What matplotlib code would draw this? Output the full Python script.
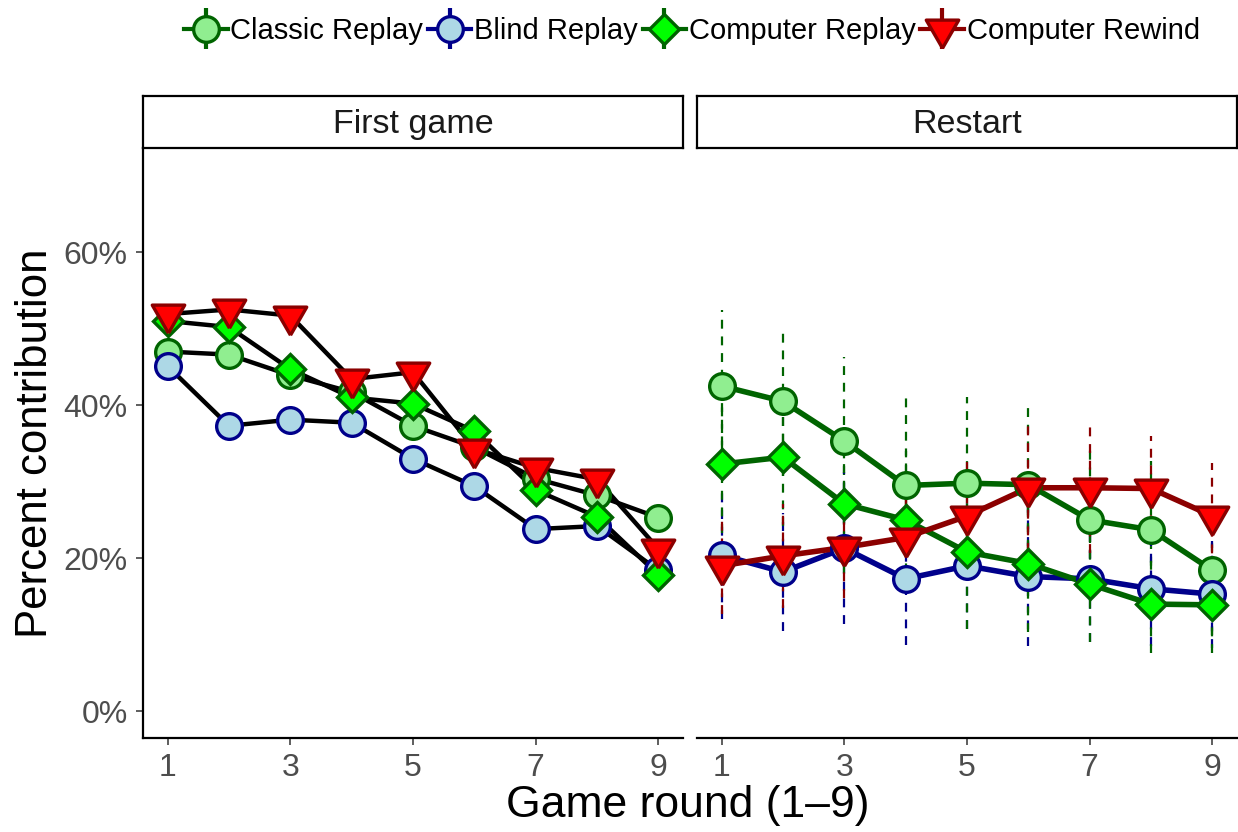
import numpy as np
import matplotlib
matplotlib.use("Agg")
import matplotlib.pyplot as plt
from matplotlib.container import ErrorbarContainer
from matplotlib.legend_handler import HandlerErrorbar

plt.rcParams['font.family'] = ['Liberation Sans', 'DejaVu Sans']

rounds = np.arange(1, 10)
series = ["Classic Replay", "Blind Replay", "Computer Replay", "Computer Rewind"]

# first game (percent contribution)
first_classic = [47.0, 46.6, 43.9, 41.7, 37.3, 34.5, 30.4, 28.2, 25.3]
first_blind = [45.1, 37.3, 38.1, 37.7, 33.0, 29.4, 23.8, 24.2, 18.4]
first_comp = [51.0, 50.2, 44.7, 41.0, 40.2, 36.6, 28.9, 25.4, 17.8]
first_rewind = [51.9, 52.5, 51.7, 43.4, 44.3, 34.3, 31.8, 30.3, 21.2]

# restart
restart_classic = [42.5, 40.5, 35.3, 29.5, 29.8, 29.6, 25.0, 23.7, 18.4]
restart_blind = [20.4, 18.2, 21.3, 17.3, 19.0, 17.6, 17.3, 16.0, 15.3]
restart_comp = [32.3, 33.2, 27.1, 25.0, 20.8, 19.3, 16.6, 14.0, 13.9]
restart_rewind = [19.0, 20.3, 21.4, 22.7, 25.5, 29.2, 29.2, 29.1, 25.5]

# error bar half widths (restart only)
err_classic = [9.9, 9.7, 11.0, 11.6, 11.3, 10.7, 9.5, 9.0, 8.5]
err_blind = [8.3, 7.7, 9.9, 8.7, 8.2, 9.1, 8.2, 7.5, 7.0]
err_comp = [9.0, 9.0, 9.0, 9.0, 10.0, 9.0, 7.5, 6.4, 6.3]
err_rewind = [6.3, 6.8, 6.6, 7.0, 7.1, 8.4, 8.5, 6.8, 7.0]

first = [first_classic, first_blind, first_comp, first_rewind]
restart = [restart_classic, restart_blind, restart_comp, restart_rewind]
errs = [err_classic, err_blind, err_comp, err_rewind]

# triangle pointing down, centred on its centroid like R's pch 25
tri_down = [(0, -1), (-0.866, 0.5), (0.866, 0.5), (0, -1)]
markers = ["o", "o", "D", tri_down]
msizes = [18.5, 18.5, 15.5, 27]
fills = ["#90EE90", "#ADD8E6", "#00FF00", "#FF0000"]
edges = ["#006400", "#00008B", "#006400", "#8B0000"]

W, H = 1238, 832
fig = plt.figure(figsize=(W / 100, H / 100), dpi=100)

axL = fig.add_axes([143 / W, 1 - 738 / H, 540 / W, 590 / H])
axR = fig.add_axes([697 / W, 1 - 738 / H, 540 / W, 590 / H])

for ax in (axL, axR):
    ax.set_xlim(0.6, 9.4)
    ax.set_ylim(-3.5, 73.6)
    ax.set_xticks([1, 3, 5, 7, 9])
    ax.set_yticks([0, 20, 40, 60])
    ax.set_yticklabels(["0%", "20%", "40%", "60%"])
    for s in ("top", "right"):
        ax.spines[s].set_visible(False)
    ax.spines["bottom"].set_linewidth(1.6)
    ax.spines["left"].set_linewidth(1.6)
    ax.tick_params(axis="both", colors="#333333", labelcolor="#4D4D4D",
                   labelsize=23, length=5, width=1.1, pad=6)

axR.spines["left"].set_visible(False)
axR.tick_params(axis="y", left=False, labelleft=False)

# first game: black lines
for i in range(4):
    axL.plot(rounds, first[i], color="black", lw=3.2, zorder=2)
for i in range(4):
    axL.plot(rounds, first[i], ls="none", marker=markers[i], ms=msizes[i],
             mfc=fills[i], mec=edges[i], mew=2.4, zorder=3 + i)

# restart: dashed error bars, coloured lines
for i in range(4):
    eb = axR.errorbar(rounds, restart[i], yerr=errs[i], fmt="none",
                      ecolor=edges[i], elinewidth=1.6, capsize=0, zorder=1)
    eb[2][0].set_linestyle((0, (4, 3.5)))
for i in range(4):
    axR.plot(rounds, restart[i], color=edges[i], lw=4, zorder=2)
for i in range(4):
    axR.plot(rounds, restart[i], ls="none", marker=markers[i], ms=msizes[i],
             mfc=fills[i], mec=edges[i], mew=2.4, zorder=3 + i)

# facet strips
for x0, title in ((143, "First game"), (697, "Restart")):
    sax = fig.add_axes([x0 / W, 1 - 148 / H, 540 / W, 52 / H])
    sax.set_xticks([])
    sax.set_yticks([])
    for s in sax.spines.values():
        s.set_linewidth(1.6)
    sax.text(0.5, 0.46, title, ha="center", va="center", fontsize=24.5,
             color="#1A1A1A", transform=sax.transAxes)

fig.text(36 / W, 1 - 443 / H, "Percent contribution", rotation=90,
         ha="center", va="center", fontsize=31.5)
fig.text(688 / W, 1 - 805 / H, "Game round (1\u20139)", ha="center",
         va="center", fontsize=32)

# legend handles
handles = []
for i in range(4):
    h = axR.errorbar([], [], yerr=[], color=edges[i], lw=3, marker=markers[i],
                     ms=msizes[i], mfc=fills[i], mec=edges[i], mew=2.4,
                     elinewidth=3, capsize=0, label=series[i])
    handles.append(h)
fig.legend(handles=handles, labels=series, loc="center", ncol=4,
           bbox_to_anchor=(692 / W, 1 - 31 / H), frameon=False, fontsize=21,
           handlelength=1.5, handletextpad=0.1, columnspacing=0.15,
           handler_map={ErrorbarContainer: HandlerErrorbar(xerr_size=0.7)})

fig.savefig("out.png", dpi=100)
